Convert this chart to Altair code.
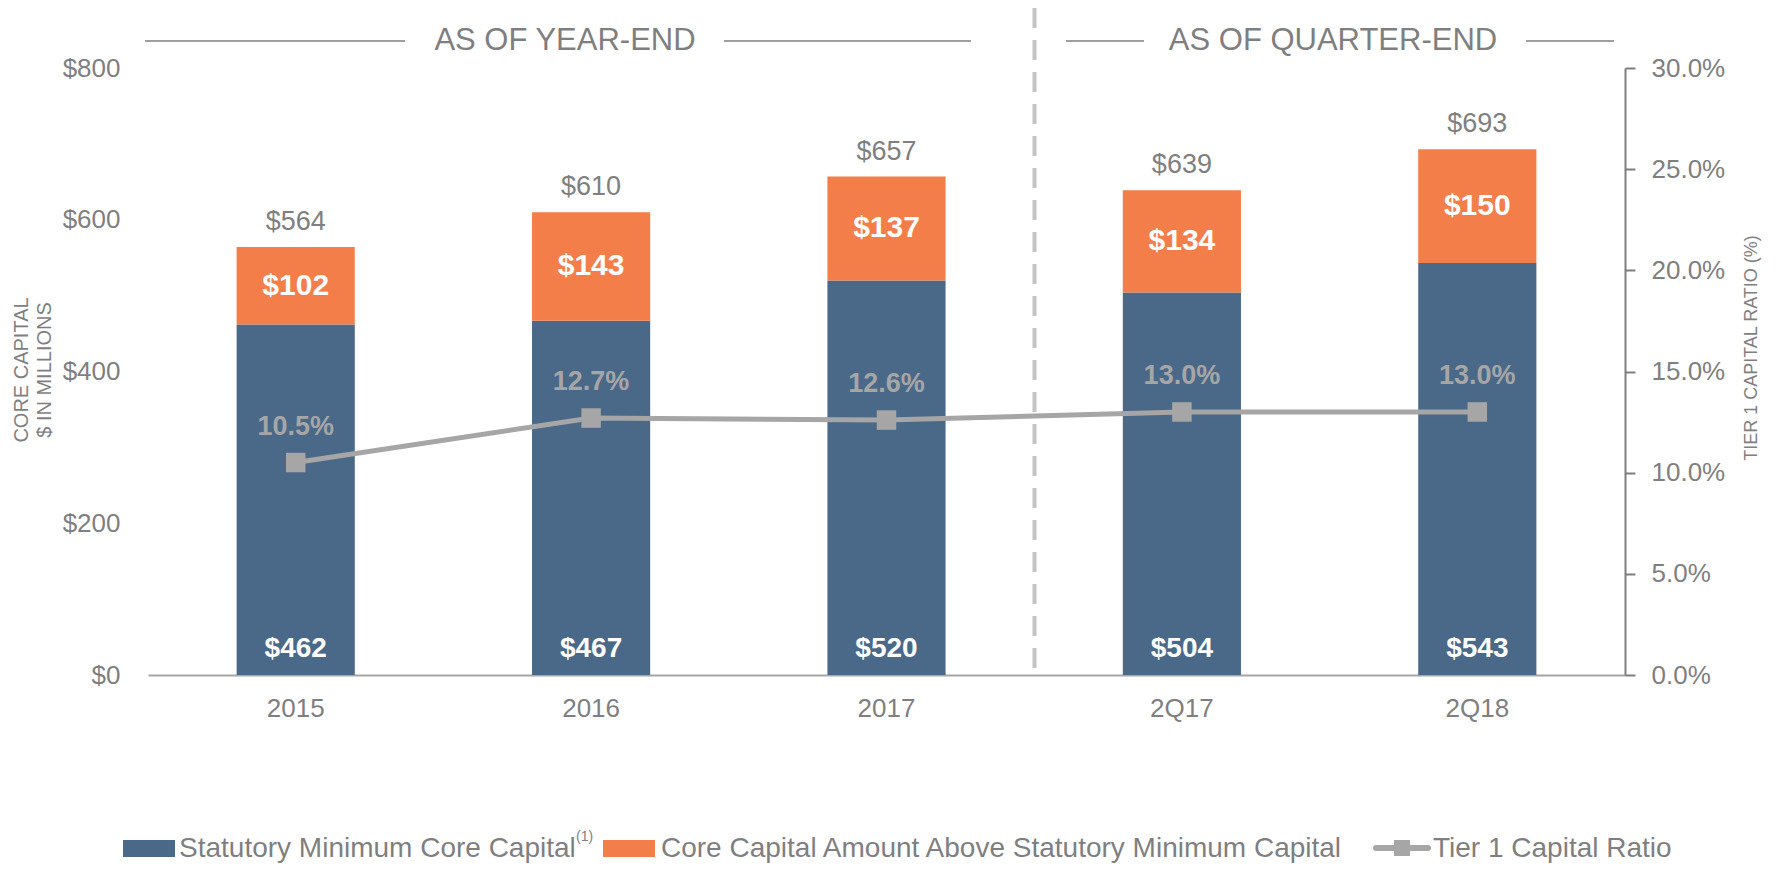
import altair as alt
import pandas as pd

categories = ["2015", "2016", "2017", "2Q17", "2Q18"]
statutory_min = [462, 467, 520, 504, 543]
above_min = [102, 143, 137, 134, 150]
totals = [564, 610, 657, 639, 693]
tier1_ratio = [10.5, 12.7, 12.6, 13.0, 13.0]

left_ticks = [0, 200, 400, 600, 800]
right_ticks = [0, 5, 10, 15, 20, 25, 30]

FONT = "Liberation Sans, Arial, Helvetica, sans-serif"
BLUE = "#4a6888"
ORANGE = "#f47e4a"
LINE_GREY = "#a6a6a6"
TEXT_GREY = "#7f7f7f"

df = pd.DataFrame({
    "cat": categories,
    "statutory": statutory_min,
    "above": above_min,
    "total": totals,
    "ratio": tier1_ratio,
})

base = alt.Chart(df).transform_calculate(
    mid="(datum.statutory + datum.total) / 2",
    total_lbl="'$' + datum.total",
    above_lbl="'$' + datum.above",
    stat_lbl="'$' + datum.statutory",
    ratio_lbl="format(datum.ratio, '.1f') + '%'",
)

x_enc = alt.X(
    "cat:N",
    sort=categories,
    scale=alt.Scale(paddingInner=0.6, paddingOuter=0.3),
    axis=alt.Axis(
        title=None, labelAngle=0, labelFontSize=26, labelColor=TEXT_GREY,
        labelFont=FONT, ticks=False, tickSize=0, labelPadding=20,
        domainColor=LINE_GREY, domainWidth=2, grid=False,
    ),
)

lscale = alt.Scale(domain=[0, 800], nice=False)
rscale = alt.Scale(domain=[0, 30], nice=False)

left_axis = alt.Axis(
    title=None, values=left_ticks, labelExpr="'$' + datum.value",
    labelFontSize=26, labelColor=TEXT_GREY, labelFont=FONT,
    domain=False, ticks=False, tickSize=0, labelPadding=28, grid=False,
)
right_axis = alt.Axis(
    orient="right", title=None, values=right_ticks,
    labelExpr="format(datum.value, '.1f') + '%'",
    labelFontSize=26, labelColor=TEXT_GREY, labelFont=FONT,
    domain=True, domainColor=TEXT_GREY, domainWidth=2,
    ticks=True, tickSize=10, tickColor=TEXT_GREY, tickWidth=2,
    labelPadding=16, grid=False,
)

bar_blue = base.mark_bar(color=BLUE).encode(
    x=x_enc,
    y=alt.Y("statutory:Q", scale=lscale, axis=left_axis),
    y2=alt.Y2(datum=0),
)
bar_orange = base.mark_bar(color=ORANGE).encode(
    x=x_enc,
    y=alt.Y("statutory:Q", scale=lscale, axis=left_axis),
    y2="total:Q",
)
total_text = base.mark_text(
    font=FONT, fontSize=27, color=TEXT_GREY, baseline="alphabetic", dy=-17
).encode(x=x_enc, y=alt.Y("total:Q", scale=lscale, axis=left_axis), text="total_lbl:N")
above_text = base.mark_text(
    font=FONT, fontSize=30, fontWeight="bold", color="white", baseline="middle"
).encode(x=x_enc, y=alt.Y("mid:Q", scale=lscale, axis=left_axis), text="above_lbl:N")
stat_text = base.mark_text(
    font=FONT, fontSize=28, fontWeight="bold", color="white", baseline="alphabetic", dy=-18
).encode(x=x_enc, y=alt.Y(datum=0, scale=lscale, axis=left_axis), text="stat_lbl:N")

left = alt.layer(bar_blue, bar_orange, total_text, above_text, stat_text)

ratio_line = base.mark_line(color=LINE_GREY, strokeWidth=5).encode(
    x=x_enc,
    y=alt.Y("ratio:Q", scale=rscale, axis=right_axis),
)
ratio_pts = base.mark_point(
    shape="square", filled=True, size=380, opacity=1, color=LINE_GREY
).encode(x=x_enc, y=alt.Y("ratio:Q", scale=rscale, axis=right_axis))
ratio_text = base.mark_text(
    font=FONT, fontSize=27, fontWeight="bold", color=LINE_GREY, baseline="middle", dy=-36
).encode(x=x_enc, y=alt.Y("ratio:Q", scale=rscale, axis=right_axis), text="ratio_lbl:N")

right = alt.layer(ratio_line, ratio_pts, ratio_text)

one = alt.Chart(pd.DataFrame({"k": [0]}))

def hline(x1, x2, y, color=TEXT_GREY, w=1.5):
    return one.mark_rule(color=color, strokeWidth=w).encode(
        x=alt.value(x1), x2=alt.value(x2), y=alt.value(y))

def label(txt, x, y, size, color=TEXT_GREY, angle=0, align="center", weight="normal", baseline="middle"):
    return one.mark_text(
        text=txt, font=FONT, fontSize=size, color=color, angle=angle,
        align=align, baseline=baseline, fontWeight=weight,
    ).encode(x=alt.value(x), y=alt.value(y))

LY = 780
annot = [
    hline(-3, 257, -27),
    hline(576, 823, -27),
    hline(918, 996, -27),
    hline(1378, 1466, -27),
    label("AS OF YEAR-END", 417, -27, 31),
    label("AS OF QUARTER-END", 1185, -27, 31),
    one.mark_rule(color="#c4c4c4", strokeWidth=4, strokeDash=[20, 12]).encode(
        x=alt.value(886.5), y=alt.value(-60), y2=alt.value(607)),
    label("CORE CAPITAL", -126, 302, 20, angle=270),
    label("$ IN MILLIONS", -103, 302, 20, angle=270),
    label("TIER 1 CAPITAL RATIO (%)", 1604, 280, 18, angle=270),
    # legend
    one.mark_rect(color=BLUE).encode(
        x=alt.value(-25), x2=alt.value(27), y=alt.value(LY - 8), y2=alt.value(LY + 9)),
    label("Statutory Minimum Core Capital", 31, LY + 1, 28, align="left"),
    label("(1)", 428, LY - 11, 14, align="left"),
    one.mark_rect(color=ORANGE).encode(
        x=alt.value(455), x2=alt.value(507), y=alt.value(LY - 8), y2=alt.value(LY + 9)),
    label("Core Capital Amount Above Statutory Minimum Capital", 513, LY + 1, 28, align="left"),
    one.mark_rule(color=LINE_GREY, strokeWidth=6, strokeCap="round").encode(
        x=alt.value(1228), x2=alt.value(1280), y=alt.value(LY)),
    one.mark_point(shape="square", filled=True, size=256, opacity=1, color=LINE_GREY).encode(
        x=alt.value(1254), y=alt.value(LY)),
    label("Tier 1 Capital Ratio", 1285, LY + 1, 28, align="left"),
]

chart = alt.layer(left, right, *annot).resolve_scale(y="independent").properties(
    width=1477,
    height=607,
    autosize=alt.AutoSizeParams(type="none"),
    padding={"left": 140, "top": 60, "right": 142, "bottom": 189},
).configure_view(stroke=None)

chart.save("out.html", embed_options={"renderer": "svg", "actions": False})
